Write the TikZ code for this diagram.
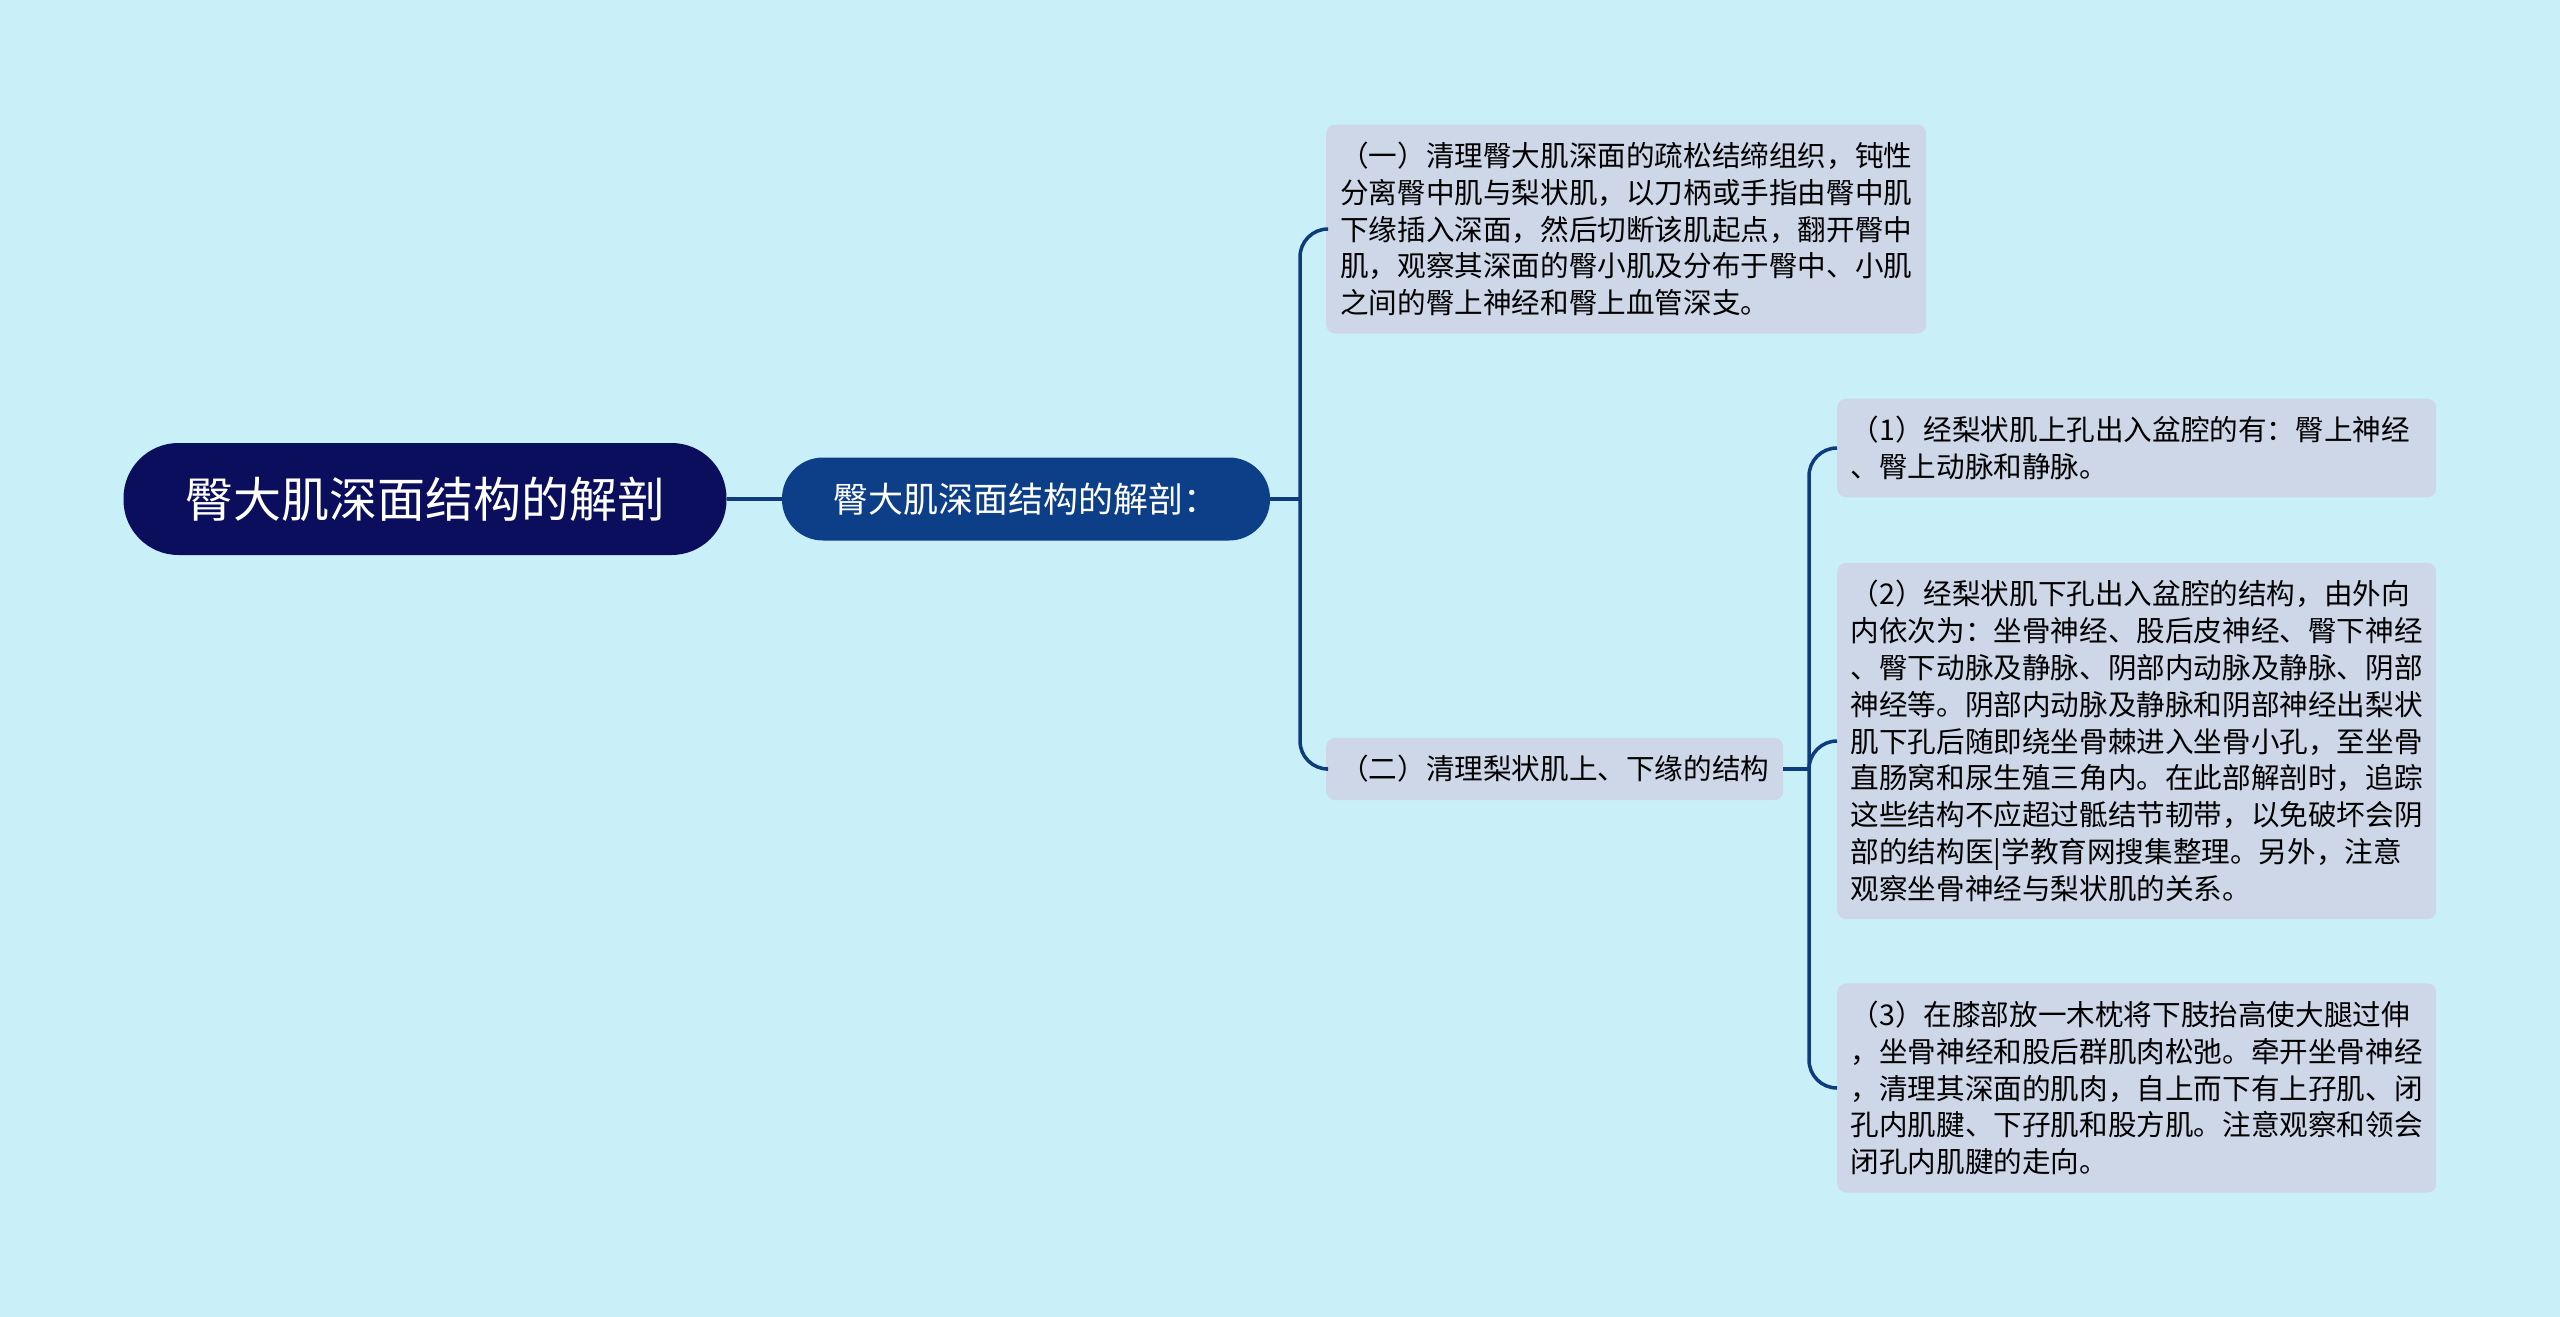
\documentclass[tikz,border=0pt]{standalone}
\usepackage{fontspec}
\setmainfont{Noto Sans CJK SC}
\definecolor{bgcyan}{HTML}{C9F0F8}
\definecolor{rootblue}{HTML}{0A0E5C}
\definecolor{subblue}{HTML}{0D3F88}
\definecolor{leafgray}{HTML}{CDD7E8}
\definecolor{linkblue}{HTML}{0E3B7E}
\begin{document}
\begin{tikzpicture}[x=1pt, y=-1pt,
                root/.style={fill=rootblue, text=white, rounded corners=55pt, minimum width=603pt, minimum height=112pt, inner sep=0pt, font=\fontsize{48}{56}\selectfont},
                sub/.style={fill=subblue, text=white, rounded corners=41pt, minimum width=488pt, minimum height=83pt, inner sep=0pt, font=\fontsize{35}{42}\selectfont},
                leaf/.style={fill=leafgray, text=black, rounded corners=9pt, align=left, anchor=west, inner xsep=14pt, inner ysep=17.5pt, font=\fontsize{28.6}{36.8}\selectfont},
                wideleaf/.style={leaf, text width=572pt, inner xsep=13.5pt},
                link/.style={draw=linkblue, line width=3.5pt, rounded corners=28pt}]

                % Background
                \fill[bgcyan] (0,0) rectangle (2560,1317);
                \useasboundingbox (0,0) rectangle (2560,1317);

                % Define nodes
                \node[root] (root) at (425,499) {臀大肌深面结构的解剖}; % Root node
                \node[sub] (anat) at (1026,499) {臀大肌深面结构的解剖：}; % Child of root
                \node[leaf] (clean) at (1326,229) {（一）清理臀大肌深面的疏松结缔组织，钝性\\分离臀中肌与梨状肌，以刀柄或手指由臀中肌\\下缘插入深面，然后切断该肌起点，翻开臀中\\肌，观察其深面的臀小肌及分布于臀中、小肌\\之间的臀上神经和臀上血管深支。}; % Child of anat
                \node[leaf] (piri) at (1326,769) {（二）清理梨状肌上、下缘的结构}; % Child of anat
                \node[wideleaf] (upper) at (1837,448) {（1）经梨状肌上孔出入盆腔的有：臀上神经\\、臀上动脉和静脉。}; % Child of piri
                \node[wideleaf] (lower) at (1837,741) {（2）经梨状肌下孔出入盆腔的结构，由外向\\内依次为：坐骨神经、股后皮神经、臀下神经\\、臀下动脉及静脉、阴部内动脉及静脉、阴部\\神经等。阴部内动脉及静脉和阴部神经出梨状\\肌下孔后随即绕坐骨棘进入坐骨小孔，至坐骨\\直肠窝和尿生殖三角内。在此部解剖时，追踪\\这些结构不应超过骶结节韧带，以免破坏会阴\\部的结构医|学教育网搜集整理。另外，注意\\观察坐骨神经与梨状肌的关系。}; % Child of piri
                \node[wideleaf] (knee) at (1837,1088) {（3）在膝部放一木枕将下肢抬高使大腿过伸\\，坐骨神经和股后群肌肉松弛。牵开坐骨神经\\，清理其深面的肌肉，自上而下有上孖肌、闭\\孔内肌腱、下孖肌和股方肌。注意观察和领会\\闭孔内肌腱的走向。}; % Child of piri

                % Define forks
                \coordinate (fork1) at (1300,499);
                \coordinate (fork2) at (1809,769);

                % Define edges
                \path[link] (root.east) -- (anat.west);
                \path[link] (anat.east) -- (fork1);
                \path[link] (fork1) |- (clean.west);
                \path[link] (fork1) |- (piri.west);
                \path[link] (piri.east) -- (fork2);
                \path[link] (fork2) |- (upper.west);
                \path[link] (fork2) |- (lower.west);
                \path[link] (fork2) |- (knee.west);
\end{tikzpicture}
\end{document}
